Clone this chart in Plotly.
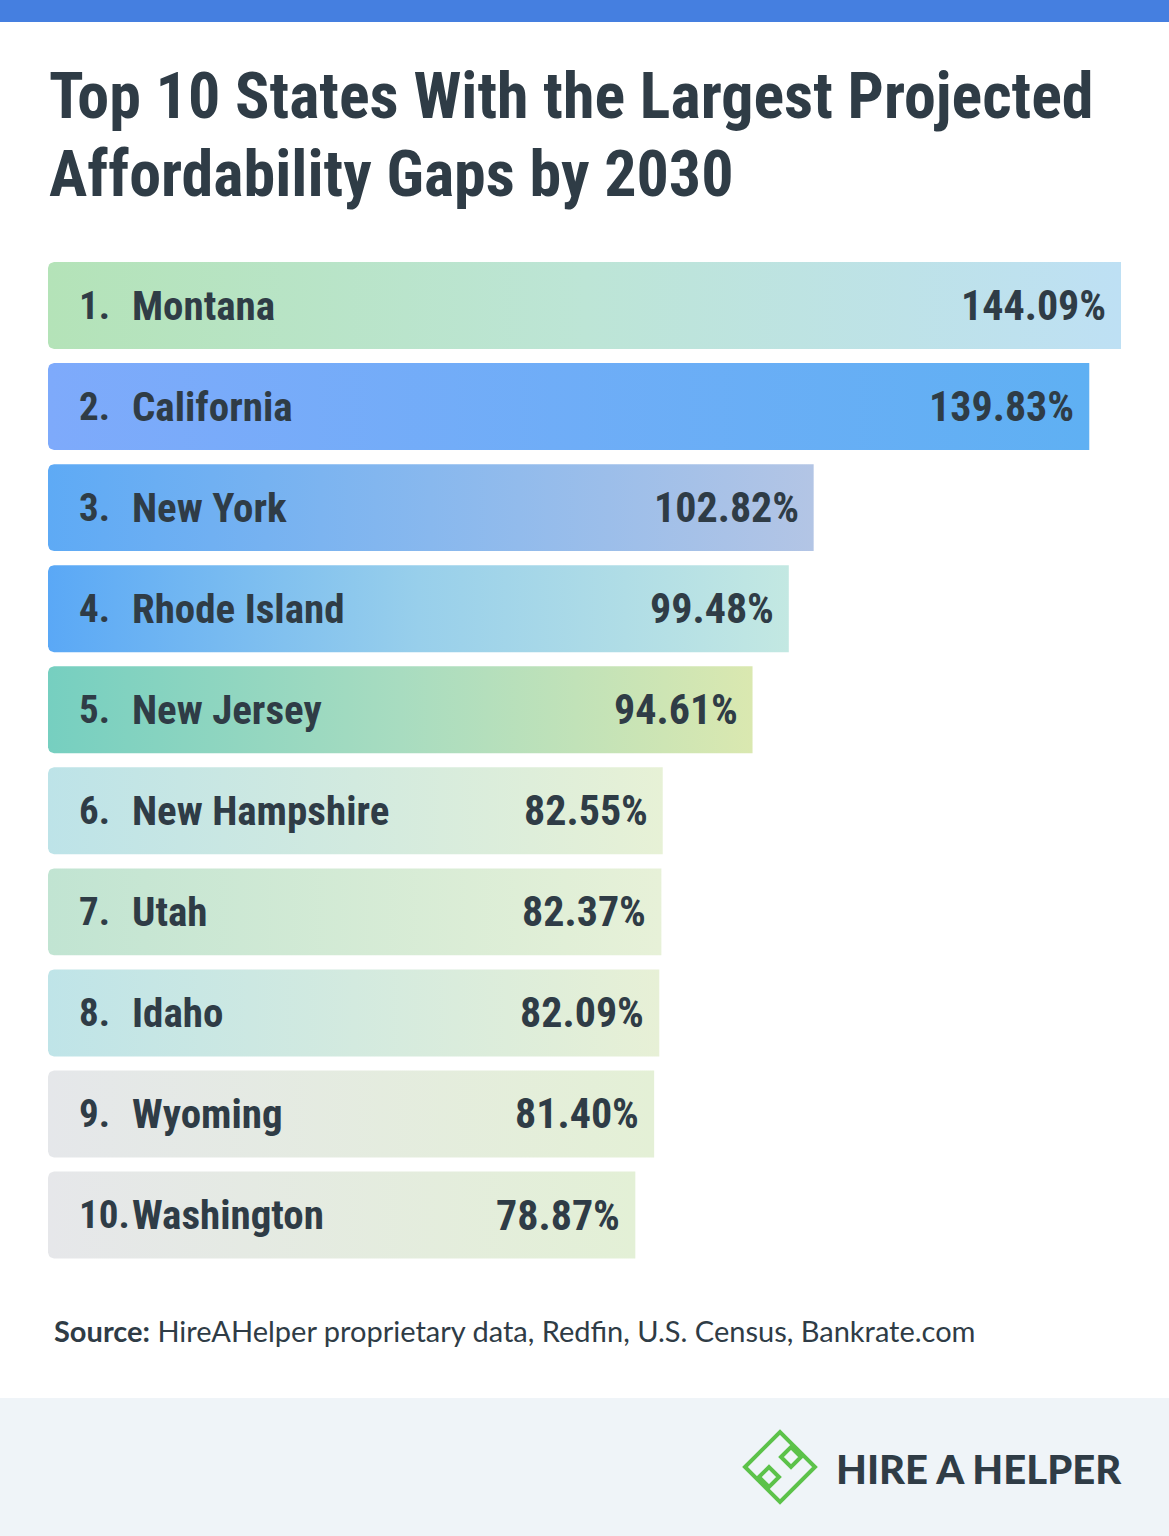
import plotly.graph_objects as go
import numpy as np

ranks = ["1.", "2.", "3.", "4.", "5.", "6.", "7.", "8.", "9.", "10."]
states = ["Montana", "California", "New York", "Rhode Island", "New Jersey",
          "New Hampshire", "Utah", "Idaho", "Wyoming", "Washington"]
values = [144.09, 139.83, 102.82, 99.48, 94.61, 82.55, 82.37, 82.09, 81.40, 78.87]
value_labels = ["144.09%", "139.83%", "102.82%", "99.48%", "94.61%",
                "82.55%", "82.37%", "82.09%", "81.40%", "78.87%"]
gradients = [
    [[0, "#b4e3b8"], [0.5, "#bde5d6"], [1, "#bee0f4"]],
    [[0, "#7eaafb"], [1, "#5fb0f3"]],
    [[0, "#5eaaf5"], [0.5, "#88b8ee"], [1, "#b3c5e5"]],
    [[0, "#5aa8f6"], [0.5, "#98cfeb"], [1, "#c3e8e2"]],
    [[0, "#76cfc0"], [0.5, "#a8dcc0"], [1, "#dae8b0"]],
    [[0, "#bde3e8"], [1, "#e7f1d6"]],
    [[0, "#c1e4d2"], [1, "#e7f1d8"]],
    [[0, "#bfe4e8"], [1, "#e7f0d6"]],
    [[0, "#e5e7ea"], [1, "#e4f0d6"]],
    [[0, "#e6e7ea"], [1, "#e3f0d6"]],
]

title_lines = ["Top 10 States With the Largest Projected", "Affordability Gaps by 2030"]
source_bold = "Source:"
source_text = "HireAHelper proprietary data, Redfin, U.S. Census, Bankrate.com"
brand = "HIRE A HELPER"

W, H = 1169, 1536
TXT = "#2f3c46"
COND = "Roboto Condensed, Open Sans Condensed, sans-serif"

x_left_px, x_right_px = 48, 1121
xmax = max(values)
px_per_unit = (x_right_px - x_left_px) / xmax
row_px = 101.06
top_px = 305.5 - 0.5 * row_px
bot_px = 305.5 + 9.5 * row_px
half = 0.43

fig = go.Figure()

rx = 6 / px_per_unit
ry = 6 / row_px
for i, (v, g) in enumerate(zip(values, gradients)):
    y0, y1 = i - half, i + half
    xs, ys = [], []
    for t in np.linspace(np.pi / 2, np.pi, 6):
        xs.append(rx + rx * np.cos(t))
        ys.append(y1 - ry + ry * np.sin(t))
    for t in np.linspace(np.pi, 1.5 * np.pi, 6):
        xs.append(rx + rx * np.cos(t))
        ys.append(y0 + ry + ry * np.sin(t))
    xs += [v, v]
    ys += [y0, y1]
    xs.append(xs[0]); ys.append(ys[0])
    fig.add_trace(go.Scatter(
        x=xs, y=ys, mode="lines", fill="toself", line=dict(width=0),
        fillgradient=dict(type="horizontal", colorscale=g),
        hoverinfo="skip", showlegend=False))

for i, (r, s, v, vl) in enumerate(zip(ranks, states, values, value_labels)):
    fig.add_annotation(x=0, y=i, xref="x", yref="y", text=r, showarrow=False,
                       xanchor="left", xshift=29, yshift=0,
                       font=dict(family=COND, size=39, color=TXT, weight="bold"))
    fig.add_annotation(x=0, y=i, xref="x", yref="y", text=s, showarrow=False,
                       xanchor="left", xshift=82, yshift=0,
                       font=dict(family=COND, size=41, color=TXT, weight="bold"))
    fig.add_annotation(x=v, y=i, xref="x", yref="y", text=vl, showarrow=False,
                       xanchor="right", xshift=-13, yshift=0,
                       font=dict(family=COND, size=42, color=TXT, weight="bold"))

def px(x):
    return x / W

def py(y):
    return 1 - y / H

# title
for k, line in enumerate(title_lines):
    fig.add_annotation(x=px(47), y=py(96 + k * 78), xref="paper", yref="paper",
                       text=line, showarrow=False, xanchor="left", yanchor="middle",
                       font=dict(family=COND, size=64, color=TXT, weight="bold"))

# source
fig.add_annotation(x=px(52), y=py(1330), xref="paper", yref="paper",
                   text=f"<b>{source_bold}</b> {source_text}", showarrow=False,
                   xanchor="left", yanchor="middle",
                   font=dict(family="Lato, sans-serif", size=29, color=TXT))

shapes = [
    dict(type="rect", xref="paper", yref="paper", x0=0, x1=1, y0=py(22), y1=1,
         fillcolor="#457fe0", line=dict(width=0), layer="below"),
    dict(type="rect", xref="paper", yref="paper", x0=0, x1=1, y0=0, y1=py(1398),
         fillcolor="#eff4f8", line=dict(width=0), layer="below"),
]

GREEN = "#5cc24a"
def diamond(cx_, cy_, d_):
    return (f"M {px(cx_ - d_)} {py(cy_)} L {px(cx_)} {py(cy_ - d_)} "
            f"L {px(cx_ + d_)} {py(cy_)} L {px(cx_)} {py(cy_ + d_)} Z")
shapes.append(dict(type="path", xref="paper", yref="paper", path=diamond(780, 1467, 35),
                   line=dict(color=GREEN, width=4)))
shapes.append(dict(type="path", xref="paper", yref="paper", path=diamond(791, 1457, 10),
                   line=dict(color=GREEN, width=4)))
shapes.append(dict(type="path", xref="paper", yref="paper", path=diamond(769, 1477, 10),
                   line=dict(color=GREEN, width=4)))
fig.update_layout(shapes=shapes)

fig.add_annotation(x=px(834), y=py(1469), xref="paper", yref="paper", text=brand,
                   showarrow=False, xanchor="left", yanchor="middle",
                   font=dict(family="Lato, sans-serif", size=40, color=TXT, weight=900))

fig.update_xaxes(range=[0, xmax], domain=[x_left_px / W, x_right_px / W],
                 visible=False, fixedrange=True)
fig.update_yaxes(range=[9.5, -0.5], domain=[1 - bot_px / H, 1 - top_px / H],
                 visible=False, fixedrange=True)
fig.update_layout(width=W, height=H, margin=dict(l=0, r=0, t=0, b=0),
                  paper_bgcolor="white", plot_bgcolor="rgba(0,0,0,0)",
                  showlegend=False)

fig.write_html("out.html", config={"displayModeBar": False})
